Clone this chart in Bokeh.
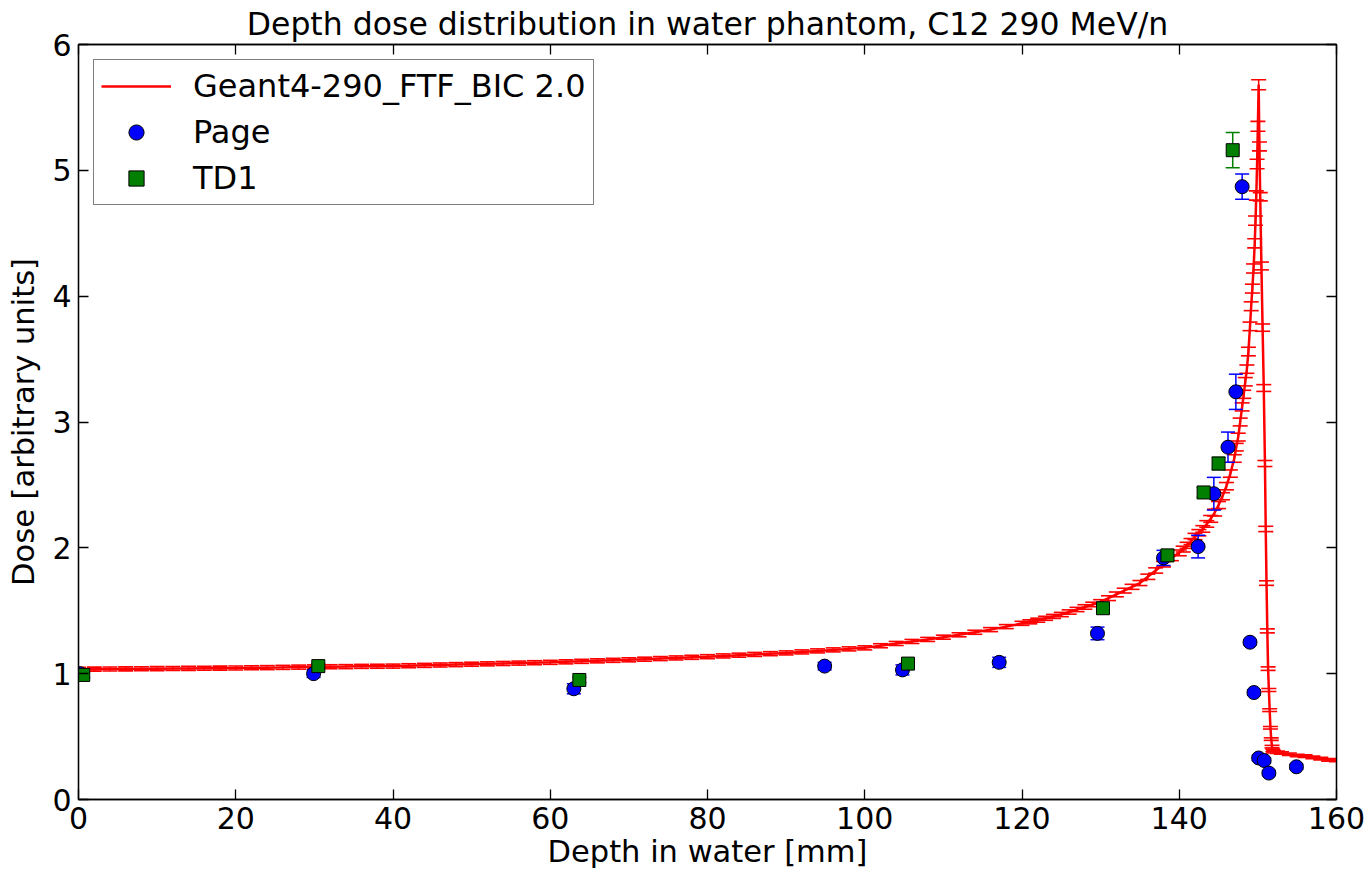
from bokeh.plotting import figure
from bokeh.models import (Range1d, LinearAxis, FixedTicker, Legend, LegendItem,
                          ColumnDataSource, CustomJSTickFormatter)
from bokeh.embed import file_html
from bokeh.resources import INLINE

# ---------------- data ----------------
title_text = "Depth dose distribution in water phantom, C12 290 MeV/n"
x_label = "Depth in water [mm]"
y_label = "Dose [arbitrary units]"
x_ticks = [0, 20, 40, 60, 80, 100, 120, 140, 160]
y_ticks = [0, 1, 2, 3, 4, 5, 6]

# Geant4 simulation (plateau, 2 mm samples)
g4_x_plateau = [0, 2, 4, 6, 8, 10, 12, 14, 16, 18, 20, 22, 24, 26, 28, 30, 32, 34, 36, 38,
                40, 42, 44, 46, 48, 50, 52, 54, 56, 58, 60, 62, 64, 66, 68, 70, 72, 74, 76, 78,
                80, 82, 84, 86, 88, 90, 92, 94, 96, 98, 100, 102, 104, 106, 108, 110, 112, 114,
                116, 118, 120]
g4_y_plateau = [1.035, 1.036, 1.037, 1.038, 1.039, 1.040, 1.041, 1.042, 1.043, 1.044, 1.045,
                1.047, 1.048, 1.050, 1.052, 1.054, 1.055, 1.056, 1.058, 1.059, 1.060, 1.063,
                1.066, 1.069, 1.072, 1.075, 1.078, 1.081, 1.084, 1.087, 1.090, 1.094, 1.098,
                1.102, 1.106, 1.110, 1.115, 1.120, 1.125, 1.130, 1.135, 1.141, 1.147, 1.153,
                1.159, 1.165, 1.173, 1.181, 1.189, 1.197, 1.205, 1.222, 1.240, 1.256, 1.272,
                1.290, 1.309, 1.329, 1.350, 1.374, 1.400]
# Geant4 approaching the Bragg peak
g4_x_rise = [121, 122, 123, 124, 125, 126, 127, 128, 129, 130, 131, 132, 133, 134, 135, 136,
             137, 138, 139, 140, 140.5, 141, 141.5, 142, 142.5, 143, 143.5, 144, 144.5, 145,
             145.5, 146, 146.5, 147, 147.25, 147.5, 147.75, 148, 148.2, 148.4, 148.6, 148.8,
             149.0, 149.15, 149.3, 149.45, 149.6, 149.7, 149.8, 149.9, 150.0, 150.1]
g4_y_rise = [1.412, 1.425, 1.44, 1.455, 1.47, 1.49, 1.51, 1.53, 1.55, 1.57, 1.60, 1.63, 1.66,
             1.69, 1.72, 1.77, 1.82, 1.87, 1.92, 1.96, 1.99, 2.02, 2.05, 2.09, 2.12, 2.15, 2.19,
             2.23, 2.28, 2.34, 2.41, 2.49, 2.59, 2.71, 2.80, 2.88, 3.00, 3.12, 3.22, 3.32, 3.42,
             3.56, 3.76, 3.92, 4.06, 4.22, 4.42, 4.60, 4.80, 5.05, 5.35, 5.68]
# Geant4 distal fall-off and fragment tail
g4_x_fall = [150.2, 150.3, 150.45, 150.6, 150.75, 150.9, 151.0, 151.1, 151.2, 151.3, 151.4,
             151.5, 151.6, 151.7, 151.8, 151.9, 152.0, 152.5, 153, 154, 155, 156, 157, 158,
             159, 160]
g4_y_fall = [5.19, 4.79, 4.24, 3.75, 3.27, 2.67, 2.15, 1.72, 1.34, 1.04, 0.87, 0.71, 0.57,
             0.48, 0.42, 0.39, 0.38, 0.375, 0.37, 0.36, 0.35, 0.345, 0.335, 0.325, 0.315, 0.31]

g4_err_plateau = [0.016] * len(g4_x_plateau)
g4_err_rise = [0.016, 0.016, 0.016, 0.016, 0.017, 0.017, 0.017, 0.018, 0.018, 0.018, 0.019,
               0.019, 0.019, 0.020, 0.020, 0.021, 0.021, 0.022, 0.022, 0.023, 0.023, 0.024,
               0.024, 0.025, 0.025, 0.026, 0.026, 0.027, 0.027, 0.028, 0.028, 0.029, 0.029,
               0.030, 0.030, 0.031, 0.031, 0.032, 0.032, 0.033, 0.033, 0.034, 0.034, 0.035,
               0.035, 0.036, 0.036, 0.037, 0.037, 0.038, 0.039, 0.040]
g4_err_fall = [0.035, 0.033, 0.031, 0.029, 0.027, 0.024, 0.021, 0.018, 0.016, 0.014, 0.012,
               0.011, 0.010, 0.010, 0.010, 0.010, 0.010, 0.010, 0.010, 0.010, 0.010, 0.010,
               0.010, 0.010, 0.010, 0.010]

g4_x = g4_x_plateau + g4_x_rise + g4_x_fall
g4_y = g4_y_plateau + g4_y_rise + g4_y_fall
g4_err = g4_err_plateau + g4_err_rise + g4_err_fall

# Measurements: Page
page_x = [0.2, 29.9, 63.0, 94.9, 104.8, 117.1, 129.6, 138.0, 142.4, 144.4, 146.2, 147.2,
          148.0, 149.0, 149.5, 150.1, 150.8, 151.4, 154.9]
page_y = [1.00, 1.00, 0.88, 1.06, 1.03, 1.09, 1.32, 1.92, 2.01, 2.43, 2.80, 3.24, 4.87,
          1.25, 0.85, 0.33, 0.31, 0.21, 0.26]
page_err = [0.03, 0.03, 0.04, 0.03, 0.04, 0.04, 0.05, 0.06, 0.09, 0.13, 0.12, 0.14, 0.10,
            0.02, 0.02, 0.02, 0.02, 0.02, 0.02]

# Measurements: TD1
td1_x = [0.6, 30.5, 63.7, 105.5, 130.3, 138.5, 143.1, 145.0, 146.8]
td1_y = [0.99, 1.06, 0.95, 1.08, 1.52, 1.94, 2.44, 2.67, 5.16]
td1_err = [0.02, 0.02, 0.02, 0.02, 0.02, 0.04, 0.04, 0.05, 0.14]

FONT = "DejaVu Sans"

# ---------------- figure ----------------
p = figure(width=1365, height=873, output_backend="svg", toolbar_location=None,
           x_range=Range1d(0, 160), y_range=Range1d(0, 6),
           min_border_left=78, min_border_right=29, min_border_top=43, min_border_bottom=74)
p.background_fill_color = "white"
p.border_fill_color = "white"
p.outline_line_color = "black"
p.outline_line_width = 1.3
p.grid.visible = False

p.title.text = title_text
p.title.text_font = FONT
p.title.text_font_size = "31.5px"
p.title.text_font_style = "normal"
p.title.align = "center"
p.title.text_color = "black"
p.title.standoff = 6

for ax, ticks in ((p.xaxis[0], x_ticks), (p.yaxis[0], y_ticks)):
    ax.ticker = FixedTicker(ticks=ticks)
    ax.major_tick_in = 10
    ax.major_tick_out = 0
    ax.minor_tick_line_color = None
    ax.major_tick_line_color = "black"
    ax.major_tick_line_width = 1.3
    ax.axis_line_color = "black"
    ax.axis_line_width = 1.3
    ax.major_label_text_font = FONT
    ax.major_label_text_font_size = "30px"
    ax.major_label_text_color = "black"
    ax.axis_label_text_font = FONT
    ax.axis_label_text_font_size = "30.5px"
    ax.axis_label_text_font_style = "normal"
    ax.axis_label_text_color = "black"

p.xaxis[0].axis_label = x_label
p.yaxis[0].axis_label = y_label
p.xaxis[0].major_label_standoff = 7
p.yaxis[0].major_label_standoff = 7
p.xaxis[0].axis_label_standoff = 2
p.yaxis[0].axis_label_standoff = 8

blank = CustomJSTickFormatter(code="return '';")
for loc, ticks in (("above", x_ticks), ("right", y_ticks)):
    extra = LinearAxis(ticker=FixedTicker(ticks=ticks), formatter=blank,
                       major_tick_in=10, major_tick_out=0,
                       minor_tick_line_color=None, major_label_standoff=0,
                       axis_line_color="black", axis_line_width=1.3,
                       major_tick_line_width=1.3)
    p.add_layout(extra, loc)

# ---------------- Geant4 ----------------
g4 = ColumnDataSource(dict(x=g4_x, y=g4_y,
                           lo=[a - b for a, b in zip(g4_y, g4_err)],
                           hi=[a + b for a, b in zip(g4_y, g4_err)]))
g4_line = p.line("x", "y", source=g4, line_color="red", line_width=2.5)
p.segment(x0="x", y0="lo", x1="x", y1="hi", source=g4, line_color="red", line_width=1.5)
p.scatter("x", "lo", source=g4, marker="dash", size=15, line_color="red", line_width=1.6)
p.scatter("x", "hi", source=g4, marker="dash", size=15, line_color="red", line_width=1.6)

# ---------------- Page ----------------
pg = ColumnDataSource(dict(x=page_x, y=page_y,
                           lo=[a - b for a, b in zip(page_y, page_err)],
                           hi=[a + b for a, b in zip(page_y, page_err)]))
p.segment(x0="x", y0="lo", x1="x", y1="hi", source=pg, line_color="blue", line_width=1.5)
p.scatter("x", "lo", source=pg, marker="dash", size=14, line_color="blue", line_width=1.5)
p.scatter("x", "hi", source=pg, marker="dash", size=14, line_color="blue", line_width=1.5)
page_r = p.scatter("x", "y", source=pg, marker="circle", size=14, fill_color="blue",
                   line_color="black", line_width=1)

# ---------------- TD1 ----------------
td = ColumnDataSource(dict(x=td1_x, y=td1_y,
                           lo=[a - b for a, b in zip(td1_y, td1_err)],
                           hi=[a + b for a, b in zip(td1_y, td1_err)]))
p.segment(x0="x", y0="lo", x1="x", y1="hi", source=td, line_color="green", line_width=1.5)
p.scatter("x", "lo", source=td, marker="dash", size=14, line_color="green", line_width=1.5)
p.scatter("x", "hi", source=td, marker="dash", size=14, line_color="green", line_width=1.5)
td_r = p.scatter("x", "y", source=td, marker="square", size=13, fill_color="#007f00",
                 line_color="black", line_width=1)

# ---------------- legend ----------------
legend = Legend(items=[LegendItem(label="Geant4-290_FTF_BIC 2.0", renderers=[g4_line]),
                       LegendItem(label="Page", renderers=[page_r]),
                       LegendItem(label="TD1", renderers=[td_r])],
                location="top_left")
legend.margin = 15
legend.padding = 7
legend.spacing = 8
legend.glyph_width = 70
legend.glyph_height = 38
legend.label_height = 38
legend.label_standoff = 22
legend.label_text_font = FONT
legend.label_text_font_size = "32px"
legend.label_text_color = "black"
legend.border_line_color = "black"
legend.border_line_width = 1.3
legend.background_fill_color = "white"
legend.background_fill_alpha = 1.0
p.add_layout(legend)

open("out.html", "w").write(file_html(p, INLINE))
